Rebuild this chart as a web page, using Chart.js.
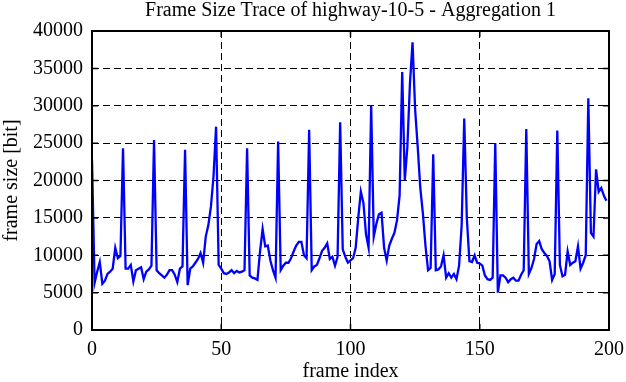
<!DOCTYPE html>
<html>
<head>
<meta charset="utf-8">
<script src="https://cdn.jsdelivr.net/npm/chart.js@4.4.1/dist/chart.umd.min.js"></script>
<style>
  html, body { margin: 0; padding: 0; background: #ffffff; }
  #c { display: block; }
</style>
</head>
<body>
<canvas id="c" width="626" height="382"></canvas>
<script>
const chartTitle = 'Frame Size Trace of highway-10-5 - Aggregation 1';
const xAxisTitle = 'frame index';
const yAxisTitle = 'frame size [bit]';
const xTicks = [0, 50, 100, 150, 200];
const yTicks = [0, 5000, 10000, 15000, 20000, 25000, 30000, 35000, 40000];

// frame size in bit, frames 0..199
const frameSizes = [
  22800, 6300, 7800, 9100, 6200, 6600, 7500, 7800, 8200, 11000,
  9600, 9900, 24300, 8200, 8200, 8700, 6500, 8000, 8200, 8400,
  6800, 7800, 8100, 8600, 25400, 8000, 7600, 7300, 7000, 7400,
  8000, 8000, 7400, 6400, 8200, 8500, 24100, 6000, 8200, 8500,
  9000, 9500, 10300, 9000, 12500, 14000, 16500, 20500, 27200, 8700,
  8200, 7600, 7500, 7700, 8000, 7600, 7900, 7700, 7800, 8000,
  24300, 7300, 7000, 6900, 6700, 10500, 13500, 11200, 11300, 9300,
  8000, 7000, 25200, 8000, 8600, 9000, 9000, 9600, 10500, 11300,
  11800, 11800, 10000, 9600, 26800, 8000, 8500, 8700, 9600, 10600,
  11000, 11600, 9500, 9800, 8600, 9800, 27800, 10800, 9800, 9000,
  9300, 9600, 11000, 15000, 18500, 17000, 12800, 11000, 30000, 12500,
  14200, 15500, 15700, 11000, 9300, 11300, 12200, 13000, 14700, 18000,
  34500, 20000, 24500, 33000, 38500, 29500, 24500, 19000, 15600, 11300,
  8000, 8300, 23500, 8000, 8100, 8500, 10000, 7000, 7600, 7000,
  7500, 6800, 8600, 14000, 28300, 15000, 9200, 9100, 10000, 9000,
  8900, 8600, 7300, 6800, 6700, 7000, 25000, 5000, 7300, 7300,
  7000, 6400, 6800, 7000, 6600, 6600, 7400, 8000, 26900, 7500,
  8300, 9500, 11500, 11900, 10800, 10300, 9900, 9200, 6700, 7500,
  26700, 8700, 7200, 7400, 10500, 8700, 9000, 9200, 11200, 8200,
  9000, 10000, 31000, 13000, 12500, 21500, 18500, 19000, 18000, 17300
];

const points = frameSizes.map((v, i) => ({ x: i, y: v }));

const serif = "'Liberation Serif', 'Times New Roman', 'DejaVu Serif', serif";
const tickFont = { family: serif, size: 20, weight: 'normal', lineHeight: 1.2 };
const axisTitleFont = { family: serif, size: 20, weight: 'normal', lineHeight: 1 };

// center the chart title over the plot area, like gnuplot does
const centerTitle = {
  id: 'centerTitle',
  afterLayout(chart) {
    const t = chart.titleBlock;
    if (t) { t.left = chart.chartArea.left; t.right = chart.chartArea.right; }
  }
};

const framePlugin = {
  id: 'gnuplotFrame',
  afterDatasetsDraw(chart) {
    const { ctx, chartArea: { left, right, top, bottom }, scales: { x, y } } = chart;
    const tl = 6;
    ctx.save();
    ctx.strokeStyle = '#000';
    ctx.lineWidth = 1.5;
    ctx.setLineDash([]);
    ctx.beginPath();
    xTicks.forEach(v => {
      const px = x.getPixelForValue(v);
      ctx.moveTo(px, bottom); ctx.lineTo(px, bottom - tl);
      ctx.moveTo(px, top); ctx.lineTo(px, top + tl);
    });
    yTicks.forEach(v => {
      const py = y.getPixelForValue(v);
      ctx.moveTo(left, py); ctx.lineTo(left + tl, py);
      ctx.moveTo(right, py); ctx.lineTo(right - tl, py);
    });
    ctx.stroke();
    ctx.lineWidth = 2;
    ctx.strokeRect(left, top, right - left, bottom - top);
    ctx.restore();
  }
};

new Chart(document.getElementById('c').getContext('2d'), {
  type: 'line',
  data: {
    datasets: [{
      data: points,
      borderColor: '#0000ff',
      backgroundColor: '#0000ff',
      borderWidth: 2.3,
      pointRadius: 0,
      tension: 0,
      fill: false
    }]
  },
  options: {
    responsive: false,
    animation: false,
    devicePixelRatio: 1,
    layout: { padding: { top: 0, right: 17, bottom: 0, left: 0 } },
    plugins: {
      legend: { display: false },
      tooltip: { enabled: false },
      title: {
        display: true,
        text: chartTitle,
        color: '#000',
        font: { family: serif, size: 20, weight: 'normal', lineHeight: 1.1 },
        padding: { top: 0, bottom: 9 }
      }
    },
    scales: {
      x: {
        type: 'linear',
        min: 0,
        max: 200,
        afterBuildTicks: s => { s.ticks = xTicks.map(v => ({ value: v })); },
        afterFit: s => { s.height = 52; s.paddingLeft = 0; s.paddingRight = 0; },
        grid: { color: '#000', lineWidth: 1, drawTicks: false },
        border: { display: false, dash: [7, 4] },
        ticks: { color: '#000', font: tickFont, padding: 8, maxRotation: 0, autoSkip: false },
        title: { display: true, text: xAxisTitle, color: '#000', font: axisTitleFont, padding: { top: 0, bottom: 0 } }
      },
      y: {
        type: 'linear',
        min: 0,
        max: 40000,
        afterBuildTicks: s => { s.ticks = yTicks.map(v => ({ value: v })); },
        afterFit: s => { s.width = 92; s.paddingTop = 0; s.paddingBottom = 0; },
        grid: { color: '#000', lineWidth: 1, drawTicks: false },
        border: { display: false, dash: [7, 4] },
        ticks: { color: '#000', font: tickFont, padding: 9, autoSkip: false, callback: v => String(v) },
        title: { display: true, text: yAxisTitle, color: '#000', font: axisTitleFont, padding: { top: 2, bottom: 0 } }
      }
    }
  },
  plugins: [centerTitle, framePlugin]
});
</script>
</body>
</html>
